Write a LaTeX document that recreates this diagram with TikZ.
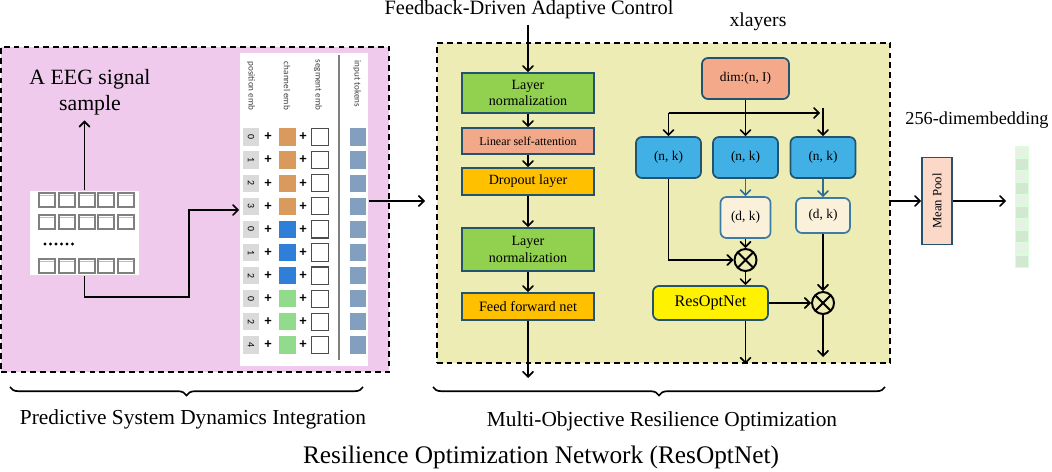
\documentclass[tikz,border=0pt]{standalone}
\usepackage{fontspec}
\setmainfont{Liberation Serif}
\newfontfamily\embfont{Carlito}
\usetikzlibrary{arrows}
\usetikzlibrary{decorations.pathreplacing}
\definecolor{pinkbg}{HTML}{EFCAEC}
\definecolor{yellowbg}{HTML}{ECECB4}
\definecolor{bordc}{HTML}{24536F}
\definecolor{lngreen}{HTML}{92D050}
\definecolor{attc}{HTML}{F2A98A}
\definecolor{dropc}{HTML}{FFC000}
\definecolor{dimc}{HTML}{F4A98A}
\definecolor{nkc}{HTML}{41B0E4}
\definecolor{dkc}{HTML}{FBF0DA}
\definecolor{dkb}{HTML}{3A7CA5}
\definecolor{arrb}{HTML}{2E6C94}
\definecolor{mpc}{HTML}{FBD8C8}
\definecolor{embor}{HTML}{D99A5E}
\definecolor{embbl}{HTML}{2F7ED8}
\definecolor{embgr}{HTML}{93DB8C}
\definecolor{embtok}{HTML}{829FC0}
\definecolor{embpos}{HTML}{DADADA}
\definecolor{vecA}{HTML}{E6F2E4}
\definecolor{vecB}{HTML}{D3E8D1}

\begin{document}
\begin{tikzpicture}[x=0.025cm,y=-0.025cm,line width=1.2pt,>=angle 90,
    block/.style={draw=bordc,line width=1.2pt,minimum width=3.3cm,inner sep=1pt,align=center,font=\fontsize{10}{12}\selectfont},
    rblock/.style={draw=bordc,line width=1.2pt,rounded corners=0.15cm,inner sep=1pt,align=center,font=\fontsize{9.5}{11}\selectfont},
    mult/.style={circle,draw,line width=1.4pt,minimum size=0.55cm,inner sep=0pt,
      path picture={\draw[line width=1.4pt] (path picture bounding box.north west) -- (path picture bounding box.south east)
        (path picture bounding box.north east) -- (path picture bounding box.south west);}},
    cell/.style={draw=gray,line width=0.8pt,minimum width=0.4cm,minimum height=0.35cm,inner sep=0pt,
      path picture={\draw[gray!50,line width=0.5pt] ([yshift=-2pt]path picture bounding box.north west) -- ([yshift=-2pt]path picture bounding box.north east);}},
    tok/.style={minimum width=0.41cm,minimum height=0.43cm,inner sep=0pt},
    hdr/.style={rotate=-90,font=\embfont\fontsize{6.5}{7}\selectfont,text=black!75},
    plus/.style={font=\embfont\bfseries\fontsize{10}{10}\selectfont,inner sep=0pt},
    lbl/.style={font=\fontsize{15.2}{17}\selectfont}]
  \useasboundingbox (0,0) rectangle (1052,472);

  \node (psd) [draw,dashed,dash pattern=on 4pt off 3pt,fill=pinkbg,minimum width=9.7cm,minimum height=8.125cm] at (195,209.5) {};
  \node (mo) [draw,dashed,dash pattern=on 4pt off 3pt,fill=yellowbg,minimum width=11.325cm,minimum height=8cm] at (663.5,203) {};

  \node (eegtext) [align=center,font=\fontsize{15.5}{18.5}\selectfont] at (90,92) {A EEG signal\\sample};
  \node (eeg) [fill=white,minimum width=2.725cm,minimum height=2.1cm] at (84.5,233) {};
  \foreach \y in {200,222,266}
    \foreach \x in {47,67,87,106,126}
      \node [cell] at (\x,\y) {};
  \foreach \x in {0,...,5}
    \fill (45+\x*5.5,244) circle (1.1pt);

  \node (tokens) [fill=white,minimum width=3.2cm,minimum height=7.825cm] at (304,209.5) {};
  \draw[gray,line width=0.8pt] (339,55) -- (339,360);
  \node [hdr] at (251,86) {position emb};
  \node [hdr] at (287,86) {channel emb};
  \node [hdr] at (318,85) {segment emb};
  \node [hdr] at (357,84) {input tokens};
  \foreach \d/\c [count=\i] in {0/embor,1/embor,2/embor,3/embor,0/embbl,1/embbl,2/embbl,0/embgr,2/embgr,4/embgr} {
    \pgfmathsetmacro\ty{137+(\i-1)*23.1}
    \node (pos\i) [tok,fill=embpos] at (251,\ty) {};
    \node [rotate=-90,font=\embfont\fontsize{7}{7}\selectfont,inner sep=0pt] at (pos\i) {\d};
    \node [plus] at (268,\ty) {+};
    \node (ch\i) [tok,fill=\c] at (287.5,\ty) {};
    \node [plus] at (303,\ty) {+};
    \node (seg\i) [tok,draw=black!70,line width=0.8pt,fill=white] at (320,\ty) {};
    \node (tok\i) [tok,fill=embtok] at (358,\ty) {};
  }

  \draw[->] (eeg.north) -- (eeg.north |- eegtext.south);
  \draw[->] (eeg.south) -- (eeg.south |- 0,297) -| (189,210) -- (tokens.west |- 0,210);
  \coordinate (moin) at (425,201);
  \draw[->] (tokens.east |- moin) -- (moin);

  \node (fb) [font=\fontsize{14.5}{16}\selectfont] at (529,10) {Feedback-Driven Adaptive Control};
  \node (ln1) [block,fill=lngreen,minimum height=1cm] at (528,93) {Layer\\normalization};
  \node (lsa) [block,fill=attc,minimum height=0.65cm,font=\fontsize{8.5}{10}\selectfont] at (528,141) {Linear self-attention};
  \node (drop) [block,fill=dropc,minimum height=0.675cm] at (528,181.5) {Dropout layer};
  \node (ln2) [block,fill=lngreen,minimum height=1.075cm] at (528,249.5) {Layer\\normalization};
  \node (ff) [block,fill=dropc,minimum height=0.675cm,font=\fontsize{10.2}{11}\selectfont] at (528,306.5) {Feed forward net};
  \coordinate (ffout) at (528,378);
  \draw[->] (fb.south -| ln1) -- (ln1.north);
  \draw[->] (ln1) -- (lsa);
  \draw[->] (lsa) -- (drop);
  \draw[->] (drop) -- (ln2);
  \draw[->] (ln2) -- (ff);
  \draw[->] (ff) -- (ffout);

  \node (xl) [font=\fontsize{14}{16}\selectfont] at (758,22) {xlayers};
  \node (dim) [rblock,fill=dimc,minimum width=2.175cm,minimum height=1.025cm] at (745.5,78.5) {dim:(n, I)};
  \node (nk1) [rblock,fill=nkc,minimum width=1.625cm,minimum height=1.025cm] at (668.5,157.5) {(n, k)};
  \node (nk2) [rblock,fill=nkc,minimum width=1.625cm,minimum height=1.025cm] at (745.5,157.5) {(n, k)};
  \node (nk3) [rblock,fill=nkc,minimum width=1.625cm,minimum height=1.025cm] at (823,157.5) {(n, k)};
  \node (dk1) [rblock,fill=dkc,draw=dkb,minimum width=1.25cm,minimum height=1.025cm] at (745.5,217.5) {(d, k)};
  \node (dk2) [rblock,fill=dkc,draw=dkb,minimum width=1.35cm,minimum height=0.875cm] at (823,215.5) {(d, k)};
  \node (mul1) [mult] at (745.5,260) {};
  \node (mul2) [mult] at (823,303) {};
  \node (res) [rblock,fill=yellow,minimum width=2.875cm,minimum height=0.85cm,font=\fontsize{11.5}{13}\selectfont] at (710.5,303) {ResOptNet};
  \coordinate (split) at (745.5,113);
  \coordinate (mulout) at (823,357);
  \draw[->] (dim.south) -- (nk2.north);
  \draw[->] (split -| nk1) -- (nk1.north);
  \draw[->,shorten >=2pt] (split -| nk1) -- (split -| nk3);
  \draw[->] ([yshift=0.12cm]split -| nk3) -- (nk3.north);
  \draw[->,arrb] (nk2) -- (dk1);
  \draw[->,arrb] (nk3) -- (dk2);
  \draw[->] (nk1.south) |- (mul1.west);
  \draw[->] (dk1) -- (mul1);
  \draw[->] (mul1.south) -- (mul1.south |- res.north);
  \draw[->] (res.east) -- (mul2.west);
  \draw[->] (dk2) -- (mul2);
  \draw[->] (mul2) -- (mulout);
  \draw[->] (res.south -| mul1) -- (mul1 |- mo.south);

  \node (dimtext) [font=\fontsize{13}{15}\selectfont] at (977,120) {256-dimembedding};
  \node (mp) [rblock,rounded corners=0pt,fill=mpc,minimum width=0.75cm,minimum height=2.175cm] at (937,201) {};
  \node [rotate=90,font=\fontsize{9}{10}\selectfont] at (mp) {Mean Pool};
  \node (emb) [minimum width=0.325cm,minimum height=3.025cm,inner sep=0pt] at (1021.5,206.5) {};
  \foreach \c [count=\i from 0] in {vecA,vecB,vecA,vecB,vecA,vecB,vecA,vecB,vecA,vecB}
    \node [fill=\c,draw=green!15!white,line width=0.5pt,minimum width=0.325cm,minimum height=0.3cm,inner sep=0pt] at (1021.5,152+\i*12.1) {};
  \draw[->] (mo.east |- mp) -- (mp.west);
  \draw[->,shorten >=0.2cm] (mp.east) -- (mp.east -| emb.west);

  \draw[decorate,decoration={brace,mirror,amplitude=6pt}] (10,387) -- (363,387);
  \draw[decorate,decoration={brace,mirror,amplitude=6pt}] (433,387) -- (885,387);
  \node (psdlbl) [lbl] at (193,419) {Predictive System Dynamics Integration};
  \node (molbl) [lbl] at (662,421) {Multi-Objective Resilience Optimization};
  \node (title) [font=\fontsize{18}{20}\selectfont] at (541,457) {Resilience Optimization Network (ResOptNet)};
\end{tikzpicture}
\end{document}
